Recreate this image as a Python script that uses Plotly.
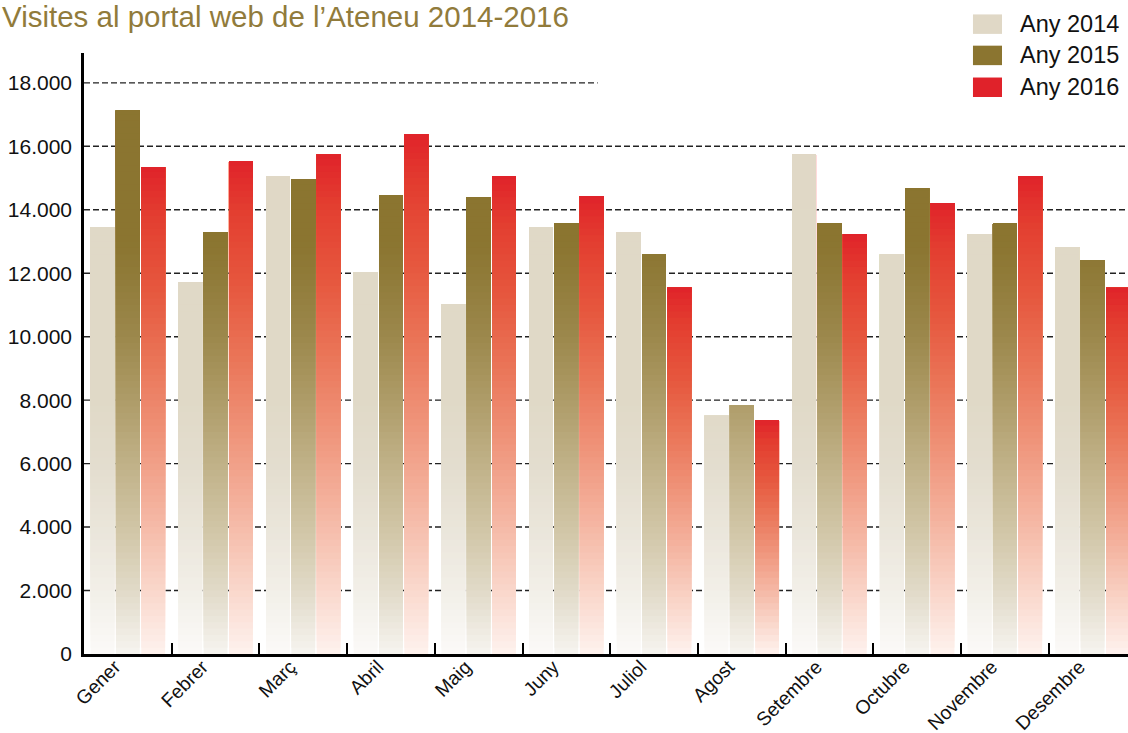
import numpy as np
import plotly.graph_objects as go

# ---------------- data ----------------
months = ["Gener", "Febrer", "Març", "Abril", "Maig", "Juny", "Juliol",
          "Agost", "Setembre", "Octubre", "Novembre", "Desembre"]
visits_2014 = [13430, 11720, 15060, 12030, 11020, 13430, 13290, 7510, 15750, 12600, 13230, 12820]
visits_2015 = [17130, 13290, 14960, 14460, 14390, 13570, 12600, 7840, 13570, 14680, 13570, 12410]
visits_2016 = [15340, 15530, 15740, 16380, 15060, 14430, 11550, 7370, 13230, 14210, 15060, 11540]
series_names = ["Any 2014", "Any 2015", "Any 2016"]
y_tick_values = [0, 2000, 4000, 6000, 8000, 10000, 12000, 14000, 16000, 18000]
y_tick_labels = ["0", "2.000", "4.000", "6.000", "8.000", "10.000", "12.000", "14.000", "16.000", "18.000"]
title_text = "Visites al portal web de l\u2019Ateneu 2014-2016"

# ---------------- styles ----------------
FONT = "Liberation Sans"
legend_colors = ["#E0D8C6", "#8B7530", "#E0222A"]

def hex2rgb(h):
    h = h.lstrip("#")
    return np.array([int(h[i:i + 2], 16) for i in (0, 2, 4)], float)

def interp_color(stops, t):
    pos = [s[0] for s in stops]
    cols = [hex2rgb(s[1]) for s in stops]
    t = min(max(t, pos[0]), pos[-1])
    for i in range(len(pos) - 1):
        if pos[i] <= t <= pos[i + 1]:
            f = (t - pos[i]) / (pos[i + 1] - pos[i]) if pos[i + 1] > pos[i] else 0
            c = cols[i] + (cols[i + 1] - cols[i]) * f
            return "rgb(%d,%d,%d)" % tuple(np.round(c))
    c = cols[-1]
    return "rgb(%d,%d,%d)" % tuple(np.round(c))

# absolute (value-based) gradients
stops_2014 = [(0, "#FBFAF8"), (2000, "#F2EFE8"), (4000, "#EAE5DA"), (6000, "#E3DDCE"),
              (8000, "#E0D9C7"), (20000, "#E0D8C6")]
stops_2015 = [(0, "#F6F4F0"), (2000, "#E1DAC8"), (4000, "#D0C5A5"), (6000, "#C0B188"),
              (8000, "#AE9C68"), (10000, "#9C884C"), (12000, "#8F7A38"), (13000, "#8B7530"),
              (20000, "#8B7530")]
# relative (per-bar) gradient
stops_2016 = [(0, "#FEF2EE"), (0.15, "#F9D3C6"), (0.3, "#F4B29E"), (0.45, "#EF9379"),
              (0.6, "#EA7558"), (0.75, "#E6573E"), (0.9, "#E33E30"), (1.0, "#E0232A")]

fig = go.Figure()

BAND = 200

def add_series(vals, group, color_fn):
    # each layer spans from its band start up to the bar top; later layers overlay
    vals = np.array(vals, float)
    nb = int(np.ceil(vals.max() / BAND))
    for k in range(nb):
        lo = k * BAND
        h = np.clip(vals - lo, 0, None)
        mid = np.minimum(lo + BAND / 2, vals)
        colors = [color_fn(m, v) for m, v in zip(mid, vals)]
        fig.add_trace(go.Bar(
            x=months, y=h, base=[lo] * len(months), offsetgroup=group,
            marker=dict(color=colors, line=dict(width=0)),
            showlegend=False, hoverinfo="skip"))

add_series(visits_2014, series_names[0], lambda m, v: interp_color(stops_2014, m))
add_series(visits_2015, series_names[1], lambda m, v: interp_color(stops_2015, m))
add_series(visits_2016, series_names[2], lambda m, v: interp_color(stops_2016, m / v))

# gridlines (dashed), the top one only partially drawn
shapes = []
for val in y_tick_values[1:]:
    x1 = 0.492 if val == y_tick_values[-1] else 1.0
    shapes.append(dict(type="line", xref="paper", yref="y", x0=0, x1=x1, y0=val, y1=val,
                       layer="below", line=dict(color="#222222", width=1.4, dash="6px,3px")))

# title + manual legend
annotations = [dict(text=title_text, xref="paper", yref="paper", x=-0.0805, y=1.060,
                    xanchor="left", yanchor="middle", showarrow=False,
                    font=dict(family=FONT, size=29.5, color="#917B3B"))]
row_y = [1.048, 0.996, 0.943]
for name, col, yy in zip(series_names, legend_colors, row_y):
    shapes.append(dict(type="rect", xref="paper", yref="paper", x0=0.8515, x1=0.8793,
                       y0=yy - 0.0162, y1=yy + 0.0162, fillcolor=col, line=dict(width=0)))
    annotations.append(dict(text=name, xref="paper", yref="paper", x=0.8946, y=yy,
                            xanchor="left", yanchor="middle", showarrow=False,
                            font=dict(family=FONT, size=23.5, color="#111111")))

fig.update_layout(
    template="none",
    width=1128, height=733,
    margin=dict(l=84, r=0, t=53, b=79, pad=0, autoexpand=False),
    paper_bgcolor="white", plot_bgcolor="white",
    barmode="group", bargap=0.133, bargroupgap=0.06,
    showlegend=False,
    shapes=shapes, annotations=annotations,
    font=dict(family=FONT, color="#111111"),
)
fig.update_xaxes(type="category", range=[-0.5, 11.404], tickson="boundaries",
                 ticks="inside", ticklen=11, tickwidth=2, tickcolor="black",
                 showline=True, linewidth=3, linecolor="black", showgrid=False,
                 zeroline=False, automargin=False,
                 tickangle=-45, ticklabelshift=-13, ticklabelstandoff=-9,
                 tickfont=dict(family=FONT, size=19.3, color="#111111"),
                 fixedrange=True)
fig.update_yaxes(range=[0, 18940], tickvals=y_tick_values, ticktext=y_tick_labels,
                 showline=True, linewidth=2.5, linecolor="black", showgrid=False,
                 zeroline=False, ticks="", ticklabelstandoff=5, automargin=False,
                 tickfont=dict(family=FONT, size=21, color="#111111"), fixedrange=True)

fig.write_html("out.html", config={"displayModeBar": False},
               post_script="document.body.style.margin='0';document.body.style.overflow='hidden';")
